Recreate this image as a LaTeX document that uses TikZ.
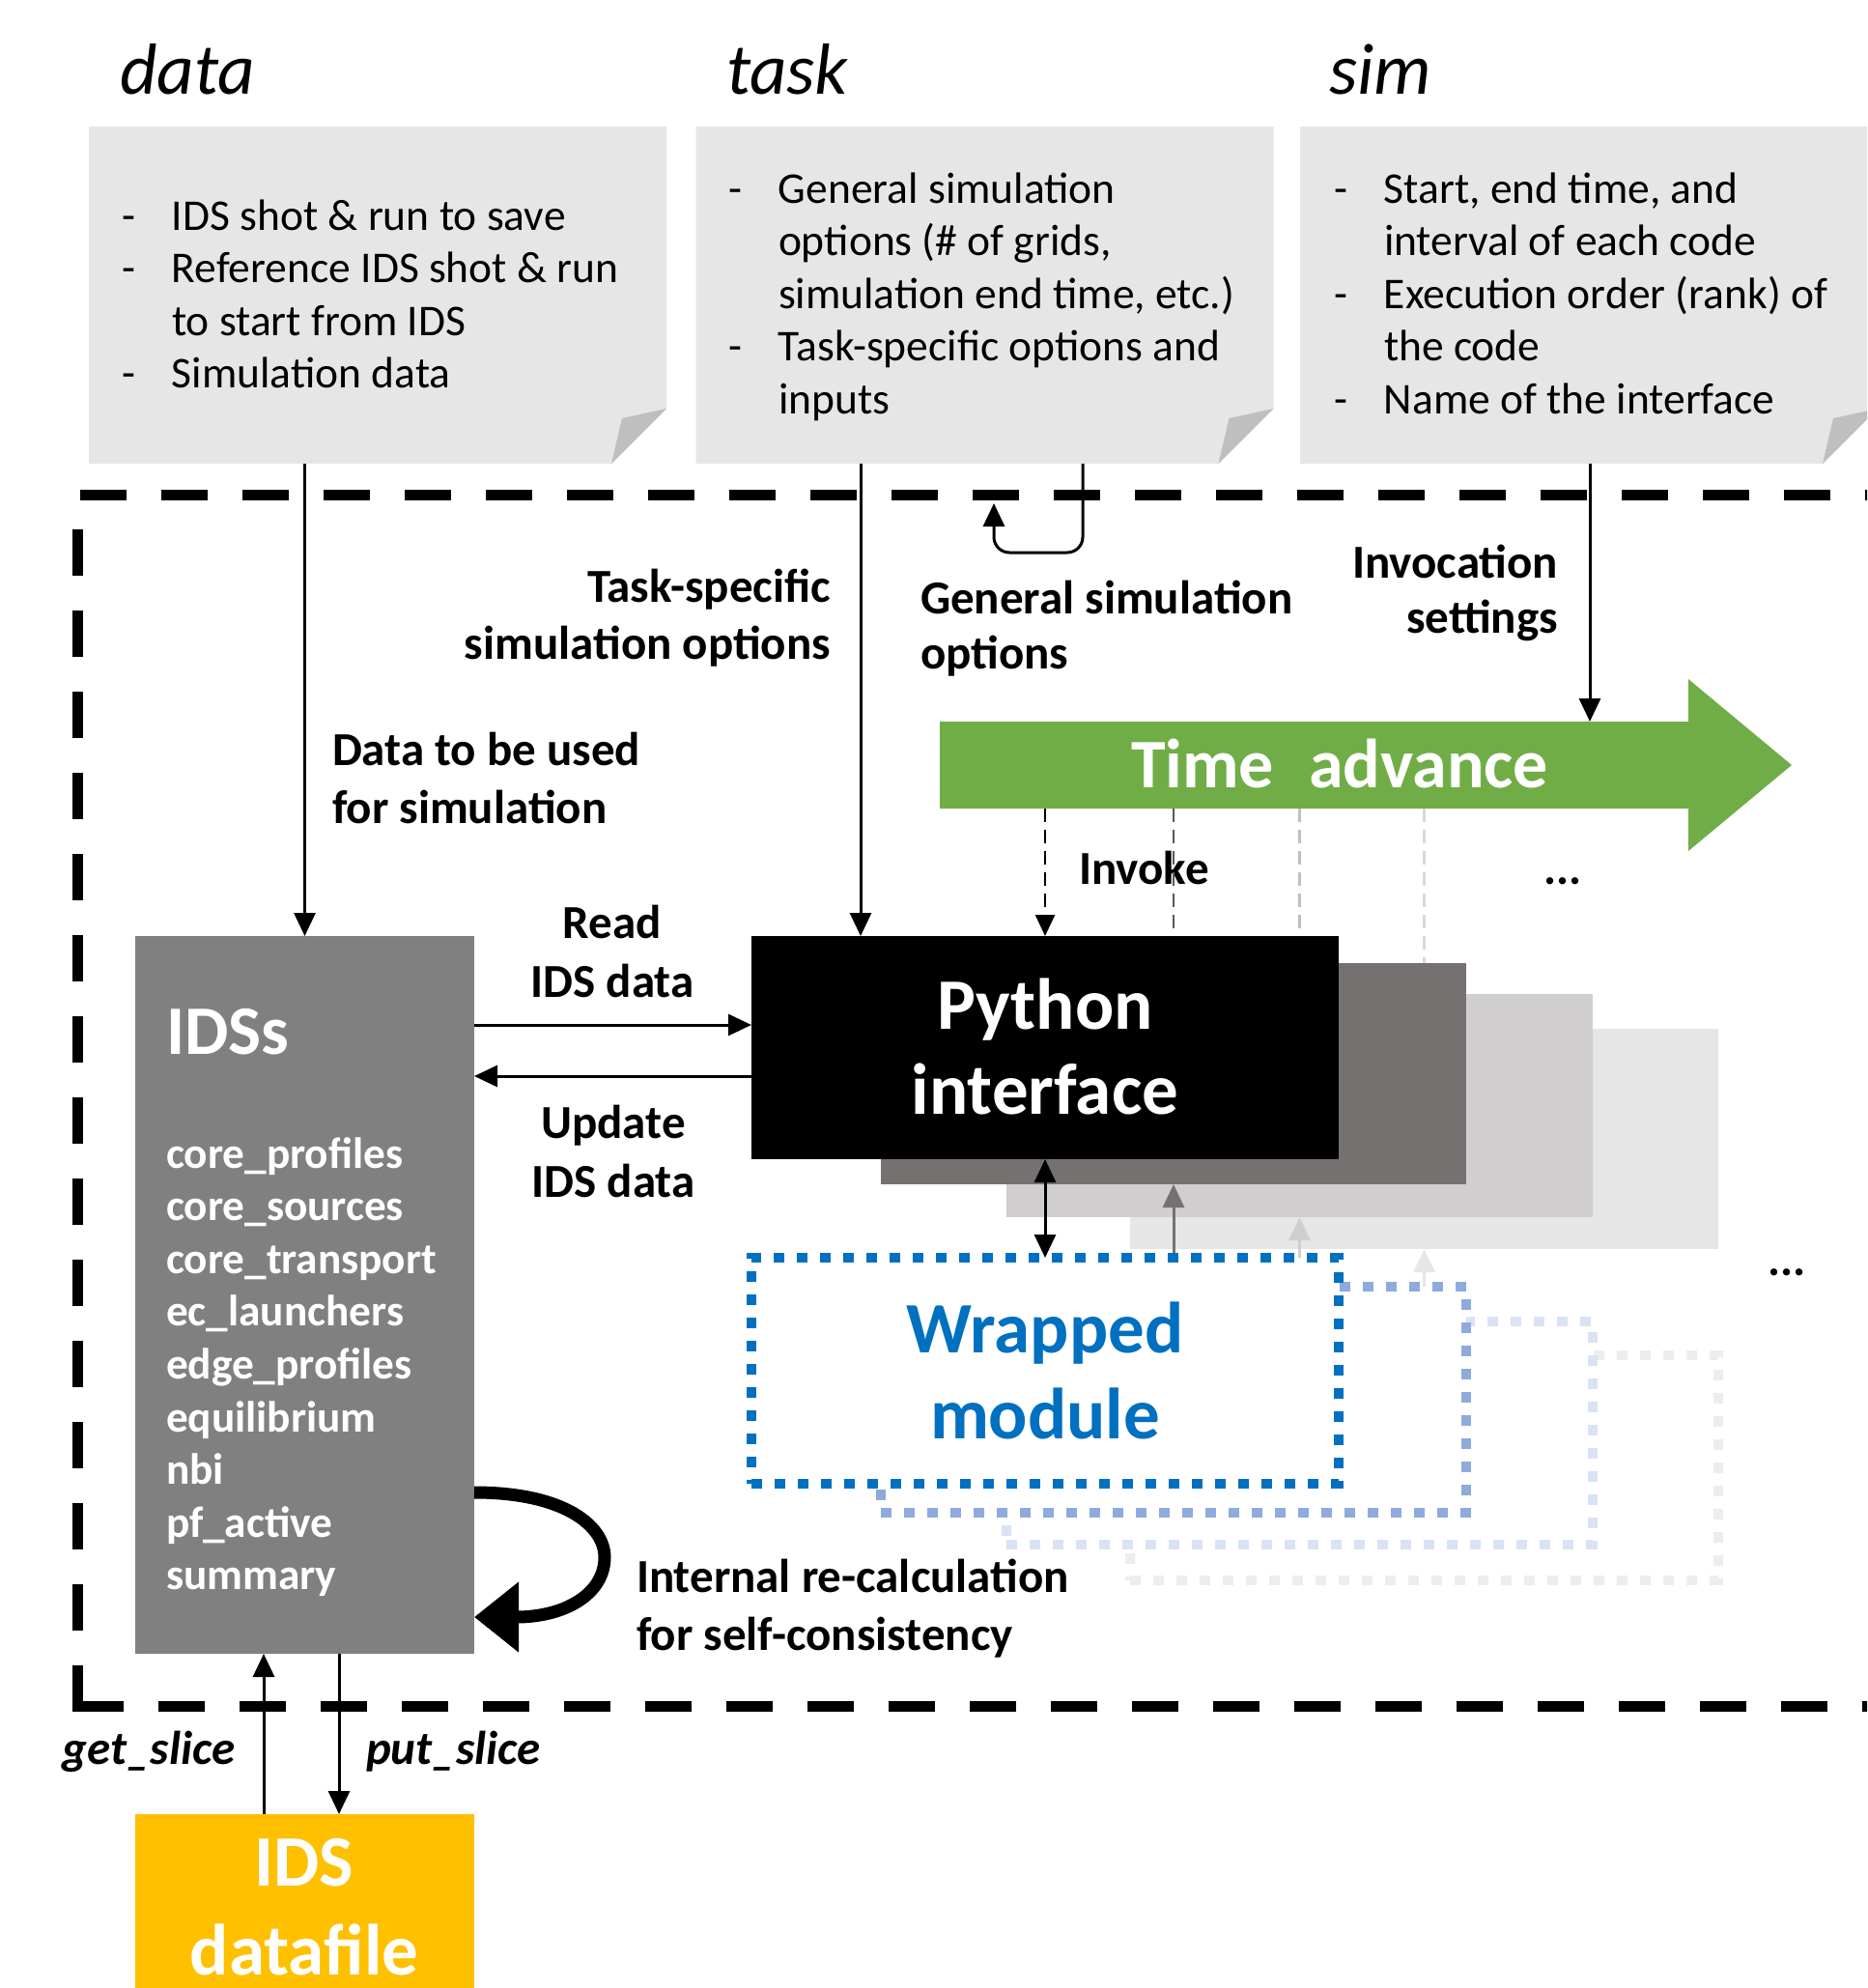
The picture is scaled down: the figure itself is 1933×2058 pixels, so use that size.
\documentclass[tikz,border=0pt]{standalone}
\usepackage{fontspec}
\setmainfont{Carlito}
\usetikzlibrary{arrows.meta,calc}

\definecolor{notegray}{HTML}{E6E6E6}
\definecolor{foldgray}{HTML}{BFBFBF}
\definecolor{idsgray}{HTML}{808080}
\definecolor{layerA}{HTML}{767171}
\definecolor{layerB}{HTML}{D0CECE}
\definecolor{layerC}{HTML}{E7E6E6}
\definecolor{timegreen}{HTML}{70AD47}
\definecolor{fileyellow}{HTML}{FFC000}
\definecolor{wrapA}{HTML}{0070C0}
\definecolor{wrapB}{HTML}{8FAADC}
\definecolor{wrapC}{HTML}{DAE3F3}
\definecolor{wrapD}{HTML}{EDEDED}
\definecolor{invkB}{HTML}{595959}
\definecolor{invkC}{HTML}{BFBFBF}
\definecolor{invkD}{HTML}{D9D9D9}

\newcommand{\setfs}[2]{\fontsize{#1pt}{#2pt}\selectfont}
\newcommand{\rowsL}[1]{\begin{tabular}[t]{@{}l@{}}#1\end{tabular}}
\newcommand{\rowsR}[1]{\begin{tabular}[t]{@{}r@{}}#1\end{tabular}}
\newcommand{\rowsC}[1]{\begin{tabular}[t]{@{}c@{}}#1\end{tabular}}
\newcommand{\bulletrows}[1]{\begin{tabular}[t]{@{}p{52pt}@{}l@{}}#1\end{tabular}}

% grey sticky note with a folded lower-right corner
\newcommand{\drawnote}[1]{%
  \fill[notegray] (#1.north west) -- (#1.north east) -- ($(#1.south east)+(0,-57)$)
     -- ($(#1.south east)+(-57,0)$) -- (#1.south west) -- cycle;
  \fill[foldgray] ($(#1.south east)+(0,-57)$) -- ($(#1.south east)+(-57,0)$)
     -- ($(#1.south east)+(-46,-47)$) -- cycle;}

\begin{document}
\begin{tikzpicture}[x=1pt,y=-1pt,
  every node/.style={inner sep=0pt,outer sep=0pt},
  arr/.style={line width=3pt,-{Triangle[length=24pt,width=22pt]}},
  biarr/.style={line width=3pt,{Triangle[length=24pt,width=22pt]}-{Triangle[length=24pt,width=22pt]}},
  frameline/.style={line width=11pt,dash pattern=on 48pt off 36pt},
  invk/.style={line width=2.5pt,dash pattern=on 14pt off 8pt},
  wrapbox/.style={fill=white,line width=10pt,dash pattern=on 11pt off 13pt},
  notebox/.style={minimum width=598pt,minimum height=349pt},
  bulletfont/.style={font=\setfs{45.5}{54.6},anchor=base west},
  titlefont/.style={font=\setfs{75}{90}\itshape,anchor=base west},
  lbl/.style={font=\setfs{49}{#1}\bfseries},
  lbl/.default=58,
  big/.style={font=\setfs{75}{#1}\bfseries},
  big/.default=88,
]
\useasboundingbox (0,0) rectangle (1933,2058);
\clip (0,0) rectangle (1933,2058);

% ---------- dashed frame ----------
\coordinate (frameBL) at (80,1771.5);
\coordinate (frameTL) at (80,512);
\coordinate (frameBR) at (1945,1766);
\coordinate (frameTR) at (1945,512);
\draw[frameline] (frameBL) -- (frameTL);
\draw[frameline] (80,1766) -- (frameBR);
\draw[frameline] (83,512) -- (frameTR);

% ---------- input notes ----------
\node[notebox] (datanote) at (391,305.5) {};
\node[notebox] (tasknote) at (1019.5,305.5) {};
\node[notebox] (simnote) at (1645,305.5) {};
\drawnote{datanote}
\drawnote{tasknote}
\drawnote{simnote}

\node[titlefont] (datatitle) at (124,97) {data};
\node[titlefont] (tasktitle) at (752,97) {task};
\node[titlefont] (simtitle) at (1376,97) {sim};

\node[bulletfont] (datalist) at (126,238) {\bulletrows{-&IDS shot \& run to save\\
  -&Reference IDS shot \& run\\ &to start from IDS\\ -&Simulation data}};
\node[bulletfont] (tasklist) at (754,210) {\bulletrows{-&General simulation\\
  &options (\# of grids,\\ &simulation end time, etc.)\\ -&Task-specific options and\\ &inputs}};
\node[bulletfont] (simlist) at (1381,210) {\bulletrows{-&Start, end time, and\\
  &interval of each code\\ -&Execution order (rank) of\\ &the code\\ -&Name of the interface}};

% ---------- labels ----------
\node[lbl=59,anchor=base east] (taskspec) at (860,623) {\rowsR{Task-specific\\simulation options}};
\node[lbl=57,anchor=base west] (gensim) at (953,635) {\rowsL{General simulation\\options}};
\node[lbl=57,anchor=base east] (invocation) at (1613,598) {\rowsR{Invocation\\settings}};
\node[lbl=60,anchor=base west] (dataused) at (344,792) {\rowsL{Data to be used\\for simulation}};
\node[lbl=61,anchor=base] (readlbl) at (634,971) {\rowsC{Read\\IDS data}};
\node[lbl=61,anchor=base] (updatelbl) at (635,1178) {\rowsC{Update\\IDS data}};
\node[lbl,anchor=base west] (invokelbl) at (1117,915) {Invoke};
\node[lbl,anchor=base] (dotsA) at (1618,915) {...};
\node[lbl,anchor=base] (dotsB) at (1850,1320) {...};
\node[lbl=60,anchor=base west] (recalc) at (659,1648) {\rowsL{Internal re-calculation\\for self-consistency}};
\node[lbl,anchor=base east,font=\setfs{49}{58}\bfseries\itshape] (getlbl) at (243,1826) {get\_slice};
\node[lbl,anchor=base west,font=\setfs{49}{58}\bfseries\itshape] (putlbl) at (379,1826) {put\_slice};

% ---------- time advance arrow ----------
\node[minimum width=775pt,minimum height=90pt] (tabody) at (1360.5,792) {};
\fill[timegreen] (tabody.north west) -- (tabody.north east) -- ($(tabody.north east)+(0,-44)$)
  -- ($(tabody.east)+(107,0)$) -- ($(tabody.south east)+(0,44)$) -- (tabody.south east)
  -- (tabody.south west) -- cycle;
\node[text=white,anchor=base,font=\setfs{72}{80}\bfseries] (tatext) at (1387,815) {Time\hspace{0.5em}advance};

% ---------- interface layers ----------
\node[fill=layerC,minimum width=609pt,minimum height=228pt] (layer3) at (1474.5,1179) {};
\node[fill=layerB,minimum width=607pt,minimum height=231pt] (layer2) at (1345.5,1144.5) {};
\node[fill=layerA,minimum width=606pt,minimum height=229pt] (layer1) at (1215,1111.5) {};
\draw[invk,invkD] (tabody.south -| layer3.north) -- (layer1.north -| layer3.north);
\draw[invk,invkC] (tabody.south -| layer2.north) -- (layer2.north);
\draw[invk,invkB] (tabody.south -| layer1.north) -- (layer1.north);
\node[fill=black,minimum width=608pt,minimum height=231pt] (python) at (1082,1084.5) {};
\draw[invk,-{Triangle[length=22pt,width=20pt]}] (tabody.south -| python.north) -- (python.north);
\node[big,text=white,anchor=base] (pytext) at (1082,1065) {\rowsC{Python\\interface}};

% ---------- wrapped modules ----------
\node[wrapbox,draw=wrapD,minimum width=609pt,minimum height=233pt] (wrap4) at (1474.5,1519.5) {};
\draw[arr,color=layerC] (wrap4.north) -- (layer3.south);
\node[wrapbox,draw=wrapC,minimum width=607pt,minimum height=231pt] (wrap3) at (1345.5,1483.5) {};
\draw[arr,color=layerB] (wrap3.north) -- (layer2.south);
\node[wrapbox,draw=wrapB,minimum width=606pt,minimum height=234pt] (wrap2) at (1215,1449) {};
\draw[arr,color=layerA] (wrap2.north) -- (layer1.south);
\node[wrapbox,draw=wrapA,minimum width=608pt,minimum height=234pt] (wrap1) at (1082,1419) {};
\node[big=89,text=wrapA,anchor=base] (wraptext) at (1082,1400) {\rowsC{Wrapped\\module}};
\draw[biarr] (python.south) -- (wrap1.north);

% ---------- IDS store ----------
\node[fill=idsgray,minimum width=351pt,minimum height=743pt] (ids) at (315.5,1340.5) {};
\node[text=white,anchor=base west,font=\setfs{72}{80}\bfseries] (idstitle) at (172,1091) {IDSs};
\node[text=white,anchor=base west,font=\setfs{45.3}{54.6}\bfseries] (idslist) at (172,1209)
  {\rowsL{core\_profiles\\core\_sources\\core\_transport\\ec\_launchers\\edge\_profiles\\equilibrium\\nbi\\pf\_active\\summary}};
\node[fill=fileyellow,minimum width=351pt,minimum height=200pt] (datafile) at (315.5,1978) {};
\node[big=92,text=white,anchor=base] (filetext) at (315,1952) {\rowsC{IDS\\datafile}};

% ---------- connectors ----------
\coordinate (taskx) at (891,0);
\coordinate (simx) at (1646,0);
\coordinate (loopx) at (1121,0);
\coordinate (loopbot) at (1029,572);
\coordinate (looptip) at (1029,521);
\coordinate (ready) at (0,1061);
\coordinate (updy) at (0,1114);
\coordinate (getx) at (273,0);
\coordinate (putx) at (351,0);
\coordinate (loopout) at (0,1545);
\coordinate (loopin) at (0,1674);

\draw[arr] (datanote.south -| ids.north) -- (ids.north);
\draw[arr] (tasknote.south -| taskx) -- (python.north -| taskx);
\draw[arr] (simnote.south -| simx) -- (tabody.north -| simx);
\draw[arr,rounded corners=16pt] (tasknote.south -| loopx) |- (loopbot) -- (looptip);
\draw[arr] (ids.east |- ready) -- (python.west |- ready);
\draw[arr] (python.west |- updy) -- (ids.east |- updy);
\draw[arr] (datafile.north -| getx) -- (ids.south -| getx);
\draw[arr] (ids.south -| putx) -- (datafile.north -| putx);
\draw[line width=13pt,-{Triangle[length=46pt,width=70pt]}] (ids.east |- loopout)
  .. controls (585,1545) and (626,1580) .. (626,1612)
  .. controls (626,1650) and (585,1674) .. (ids.east |- loopin);
\end{tikzpicture}
\end{document}
